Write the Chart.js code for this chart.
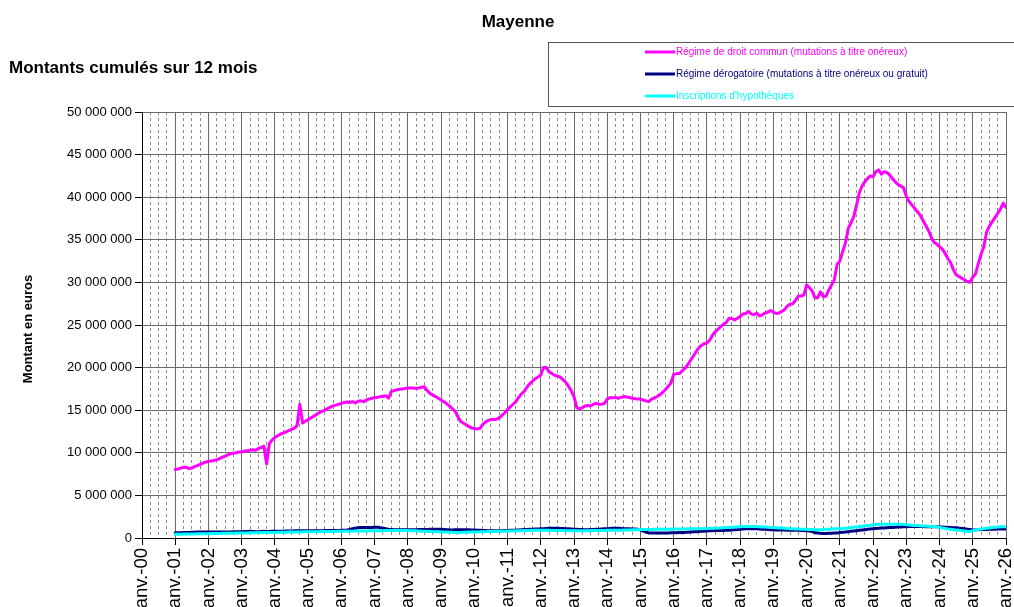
<!DOCTYPE html>
<html>
<head>
<meta charset="utf-8">
<script src="https://cdn.jsdelivr.net/npm/chart.js@4.4.1/dist/chart.umd.min.js"></script>
<style>
  html, body { margin: 0; padding: 0; background: #fff; overflow: hidden; }
</style>
</head>
<body>
<canvas id="graphique" width="1014" height="607"></canvas>
<script>
// Mayenne — montants cumulés sur 12 mois (en millions d'euros, mensuel de janv.-01 à janv.-26)
const titre = 'Mayenne';
const sousTitre = 'Montants cumulés sur 12 mois';
const titreAxeY = 'Montant en euros';

const nomsSeries = [
  'Régime de droit commun (mutations à titre onéreux)',
  'Régime dérogatoire (mutations à titre onéreux ou gratuit)',
  'Inscriptions d\'hypothèques'
];
const couleurs = ['#ff00ff', '#000080', '#00ffff'];

// premier point = janv.-01 (mois 12 depuis janv.-00)
const moisDebut = 12;

const etiquettesAnnees = [
  'janv.-00', 'janv.-01', 'janv.-02', 'janv.-03', 'janv.-04', 'janv.-05', 'janv.-06',
  'janv.-07', 'janv.-08', 'janv.-09', 'janv.-10', 'janv.-11', 'janv.-12', 'janv.-13',
  'janv.-14', 'janv.-15', 'janv.-16', 'janv.-17', 'janv.-18', 'janv.-19', 'janv.-20',
  'janv.-21', 'janv.-22', 'janv.-23', 'janv.-24', 'janv.-25', 'janv.-26'
];

const droitCommun = [
  8.05, 8.1, 8.2, 8.3, 8.3, 8.15, 8.2, 8.4, 8.5, 8.65, 8.8, 8.9,              // 2001
  9.0, 9.05, 9.1, 9.2, 9.3, 9.5, 9.6, 9.75, 9.9, 9.95, 10.0, 10.1,           // 2002
  10.1, 10.2, 10.25, 10.3, 10.35, 10.3, 10.5, 10.6, 10.8, 8.7, 11.1, 11.5,   // 2003
  11.8, 12.0, 12.2, 12.3, 12.45, 12.6, 12.75, 12.9, 13.2, 15.7, 13.5, 13.7,  // 2004
  13.9, 14.1, 14.3, 14.5, 14.7, 14.85, 15.0, 15.2, 15.35, 15.5, 15.6, 15.7,  // 2005
  15.8, 15.9, 15.95, 15.9, 16.0, 15.85, 16.05, 16.1, 16.0, 16.2, 16.3, 16.4, // 2006
  16.5, 16.5, 16.6, 16.6, 16.7, 16.4, 17.2, 17.3, 17.4, 17.45, 17.5, 17.55,  // 2007
  17.6, 17.6, 17.6, 17.55, 17.6, 17.7, 17.75, 17.3, 16.95, 16.8, 16.6, 16.4, // 2008
  16.2, 16.0, 15.75, 15.5, 15.2, 14.9, 14.3, 13.7, 13.5, 13.3, 13.1, 12.9,   // 2009
  12.85, 12.8, 12.85, 13.3, 13.6, 13.8, 13.9, 13.9, 13.95, 14.1, 14.4, 14.7, // 2010
  15.1, 15.4, 15.7, 16.0, 16.5, 16.9, 17.2, 17.7, 18.1, 18.4, 18.7, 18.9,    // 2011
  19.1, 20.0, 20.0, 19.5, 19.3, 19.1, 19.0, 18.9, 18.6, 18.3, 17.8, 17.3,    // 2012
  16.6, 15.3, 15.15, 15.3, 15.5, 15.55, 15.5, 15.7, 15.8, 15.7, 15.7, 15.8,  // 2013
  16.3, 16.5, 16.45, 16.5, 16.4, 16.5, 16.6, 16.55, 16.5, 16.4, 16.35, 16.3, // 2014
  16.3, 16.2, 16.1, 16.0, 16.3, 16.45, 16.6, 16.8, 17.1, 17.4, 17.8, 18.2,   // 2015
  19.2, 19.3, 19.3, 19.6, 19.9, 20.3, 20.8, 21.3, 21.8, 22.3, 22.6, 22.8,    // 2016
  22.9, 23.2, 23.8, 24.2, 24.5, 24.8, 25.1, 25.3, 25.8, 25.75, 25.6, 25.8,   // 2017
  26.0, 26.3, 26.35, 26.6, 26.3, 26.2, 26.4, 26.05, 26.2, 26.4, 26.5, 26.7,  // 2018
  26.5, 26.35, 26.4, 26.6, 26.8, 27.2, 27.45, 27.5, 27.9, 28.4, 28.4, 28.5,  // 2019
  29.7, 29.4, 29.0, 28.2, 28.2, 28.9, 28.3, 28.4, 29.1, 29.7, 30.3, 32.1,    // 2020
  32.5, 33.6, 34.6, 36.3, 37.0, 37.7, 39.0, 40.5, 41.3, 41.8, 42.2, 42.5,    // 2021
  42.4, 43.0, 43.2, 42.7, 43.0, 42.9, 42.6, 42.2, 41.8, 41.5, 41.3, 41.1,    // 2022
  40.1, 39.5, 39.1, 38.7, 38.3, 37.9, 37.3, 36.7, 36.1, 35.3, 34.7, 34.5,    // 2023
  34.2, 33.9, 33.4, 32.8, 32.3, 31.5, 30.9, 30.7, 30.5, 30.3, 30.1, 30.0,    // 2024
  30.6, 31.0, 32.2, 33.3, 34.2, 35.9, 36.6, 37.1, 37.6, 38.1, 38.6, 39.3,    // 2025
  38.8                                                                       // 2026
];

const derogatoire = [
  0.62, 0.62, 0.63, 0.64, 0.65, 0.66, 0.67, 0.68, 0.69, 0.7, 0.7, 0.7,       // 2001
  0.7, 0.71, 0.71, 0.7, 0.7, 0.7, 0.69, 0.7, 0.71, 0.72, 0.72, 0.73,         // 2002
  0.74, 0.75, 0.76, 0.78, 0.77, 0.75, 0.74, 0.76, 0.78, 0.77, 0.76, 0.78,    // 2003
  0.8, 0.8, 0.79, 0.8, 0.81, 0.82, 0.83, 0.84, 0.84, 0.85, 0.84, 0.84,       // 2004
  0.85, 0.86, 0.86, 0.86, 0.85, 0.86, 0.87, 0.88, 0.88, 0.88, 0.87, 0.88,    // 2005
  0.9, 0.92, 0.95, 1.0, 1.08, 1.15, 1.2, 1.22, 1.22, 1.23, 1.23, 1.24,       // 2006
  1.26, 1.25, 1.22, 1.15, 1.08, 1.02, 1.0, 0.98, 0.97, 0.97, 0.98, 0.98,     // 2007
  0.98, 0.97, 0.97, 0.98, 0.99, 1.0, 1.0, 1.0, 1.02, 1.03, 1.04, 1.03,       // 2008
  1.02, 1.0, 0.98, 0.96, 0.95, 0.96, 0.97, 0.98, 0.98, 0.97, 0.96, 0.95,     // 2009
  0.94, 0.92, 0.9, 0.88, 0.87, 0.86, 0.86, 0.86, 0.85, 0.85, 0.86, 0.87,     // 2010
  0.88, 0.9, 0.92, 0.93, 0.95, 0.97, 0.99, 1.0, 1.02, 1.04, 1.05, 1.06,      // 2011
  1.08, 1.1, 1.12, 1.13, 1.14, 1.14, 1.13, 1.12, 1.12, 1.1, 1.08, 1.06,      // 2012
  1.04, 1.02, 1.0, 0.99, 0.98, 0.98, 0.99, 1.0, 1.02, 1.04, 1.06, 1.08,      // 2013
  1.1, 1.12, 1.14, 1.15, 1.14, 1.12, 1.1, 1.09, 1.08, 1.07, 1.05, 1.02,      // 2014
  0.95, 0.8, 0.68, 0.62, 0.6, 0.59, 0.58, 0.58, 0.59, 0.6, 0.6, 0.61,        // 2015
  0.62, 0.63, 0.64, 0.65, 0.66, 0.68, 0.7, 0.72, 0.74, 0.76, 0.78, 0.8,      // 2016
  0.82, 0.84, 0.86, 0.87, 0.88, 0.88, 0.89, 0.9, 0.92, 0.95, 0.98, 1.0,      // 2017
  1.03, 1.06, 1.08, 1.1, 1.1, 1.1, 1.08, 1.06, 1.04, 1.02, 1.0, 0.98,        // 2018
  0.96, 0.95, 0.94, 0.93, 0.93, 0.92, 0.92, 0.91, 0.9, 0.9, 0.89, 0.88,      // 2019
  0.86, 0.82, 0.75, 0.65, 0.58, 0.55, 0.54, 0.54, 0.55, 0.56, 0.58, 0.6,     // 2020
  0.64, 0.67, 0.7, 0.74, 0.78, 0.82, 0.86, 0.9, 0.94, 0.98, 1.02, 1.06,      // 2021
  1.1, 1.12, 1.14, 1.16, 1.18, 1.2, 1.22, 1.24, 1.26, 1.28, 1.3, 1.32,       // 2022
  1.33, 1.34, 1.34, 1.35, 1.35, 1.34, 1.34, 1.33, 1.33, 1.32, 1.31, 1.31,    // 2023
  1.3, 1.29, 1.27, 1.25, 1.23, 1.21, 1.19, 1.16, 1.12, 1.08, 1.04, 1.0,      // 2024
  0.95, 0.96, 0.98, 1.0, 1.0, 1.0, 1.02, 1.03, 1.04, 1.05, 1.05, 1.06,       // 2025
  1.06                                                                       // 2026
];

const hypotheques = [
  0.43, 0.44, 0.45, 0.46, 0.46, 0.47, 0.48, 0.48, 0.49, 0.5, 0.5, 0.5,       // 2001
  0.51, 0.52, 0.52, 0.53, 0.54, 0.55, 0.55, 0.56, 0.56, 0.57, 0.58, 0.58,    // 2002
  0.59, 0.6, 0.6, 0.61, 0.62, 0.62, 0.63, 0.64, 0.64, 0.65, 0.65, 0.66,      // 2003
  0.66, 0.67, 0.67, 0.68, 0.68, 0.69, 0.7, 0.7, 0.71, 0.71, 0.72, 0.72,      // 2004
  0.72, 0.73, 0.73, 0.74, 0.74, 0.75, 0.75, 0.76, 0.76, 0.77, 0.77, 0.78,    // 2005
  0.78, 0.79, 0.79, 0.8, 0.8, 0.81, 0.82, 0.82, 0.83, 0.83, 0.84, 0.84,      // 2006
  0.85, 0.85, 0.86, 0.86, 0.87, 0.87, 0.87, 0.88, 0.88, 0.88, 0.88, 0.88,    // 2007
  0.87, 0.86, 0.85, 0.84, 0.82, 0.8, 0.78, 0.76, 0.75, 0.74, 0.73, 0.72,     // 2008
  0.71, 0.7, 0.69, 0.68, 0.67, 0.66, 0.66, 0.66, 0.67, 0.68, 0.69, 0.7,      // 2009
  0.7, 0.71, 0.72, 0.73, 0.74, 0.75, 0.76, 0.77, 0.78, 0.79, 0.8, 0.8,       // 2010
  0.81, 0.82, 0.83, 0.84, 0.85, 0.86, 0.87, 0.88, 0.89, 0.9, 0.9, 0.9,       // 2011
  0.9, 0.9, 0.9, 0.9, 0.89, 0.88, 0.88, 0.87, 0.87, 0.86, 0.86, 0.86,        // 2012
  0.85, 0.85, 0.85, 0.86, 0.86, 0.86, 0.87, 0.87, 0.88, 0.88, 0.89, 0.89,    // 2013
  0.9, 0.9, 0.91, 0.91, 0.92, 0.92, 0.93, 0.94, 0.95, 0.96, 0.97, 0.98,      // 2014
  0.99, 1.0, 1.0, 1.01, 1.01, 1.02, 1.02, 1.03, 1.03, 1.04, 1.04, 1.05,      // 2015
  1.05, 1.06, 1.06, 1.07, 1.07, 1.08, 1.08, 1.09, 1.09, 1.1, 1.1, 1.11,      // 2016
  1.12, 1.13, 1.14, 1.15, 1.16, 1.18, 1.2, 1.22, 1.24, 1.26, 1.28, 1.3,      // 2017
  1.32, 1.34, 1.35, 1.36, 1.36, 1.35, 1.34, 1.32, 1.3, 1.28, 1.26, 1.24,     // 2018
  1.22, 1.2, 1.18, 1.16, 1.14, 1.12, 1.1, 1.08, 1.06, 1.05, 1.04, 1.03,      // 2019
  1.02, 1.01, 1.0, 0.98, 0.97, 0.98, 1.0, 1.02, 1.04, 1.06, 1.08, 1.09,      // 2020
  1.1, 1.12, 1.15, 1.18, 1.22, 1.26, 1.3, 1.34, 1.38, 1.42, 1.46, 1.5,       // 2021
  1.55, 1.58, 1.6, 1.61, 1.62, 1.62, 1.62, 1.61, 1.61, 1.6, 1.6, 1.6,        // 2022
  1.55, 1.52, 1.5, 1.48, 1.46, 1.44, 1.42, 1.4, 1.38, 1.36, 1.34, 1.32,      // 2023
  1.25, 1.18, 1.12, 1.06, 1.02, 0.98, 0.94, 0.9, 0.86, 0.82, 0.78, 0.76,     // 2024
  0.85, 0.95, 1.0, 1.05, 1.1, 1.14, 1.18, 1.22, 1.26, 1.3, 1.32, 1.33,       // 2025
  1.33                                                                       // 2026
];

const police = '"Liberation Sans", Arial, sans-serif';

function enPoints(valeurs) {
  return valeurs.map((v, i) => ({ x: moisDebut + i, y: v * 1e6 }));
}

function formatMilliers(v) {
  return String(v).replace(/\B(?=(\d{3})+(?!\d))/g, ' ');
}

// titres, titre d'axe et cadre de légende
const textesGraphique = {
  id: 'textesGraphique',
  afterDraw(chart) {
    const ctx = chart.ctx;
    ctx.save();
    ctx.fillStyle = '#000';
    ctx.textBaseline = 'middle';
    ctx.font = 'bold 17px ' + police;
    ctx.textAlign = 'center';
    ctx.fillText(titre, 518, 22);
    ctx.textAlign = 'left';
    ctx.fillText(sousTitre, 9, 68);

    ctx.save();
    ctx.translate(28, 329);
    ctx.rotate(-Math.PI / 2);
    ctx.textAlign = 'center';
    ctx.font = 'bold 13px ' + police;
    ctx.fillText(titreAxeY, 0, 0);
    ctx.restore();

    // légende
    ctx.fillStyle = '#fff';
    ctx.fillRect(548, 42, 470, 64);
    ctx.strokeStyle = '#555';
    ctx.lineWidth = 1;
    ctx.strokeRect(548.5, 42.5, 470, 64);
    ctx.font = '10px ' + police;
    ctx.textAlign = 'left';
    const lignesY = [52, 74, 96];
    nomsSeries.forEach((nom, i) => {
      ctx.strokeStyle = couleurs[i];
      ctx.lineWidth = 3;
      ctx.beginPath();
      ctx.moveTo(645, lignesY[i]);
      ctx.lineTo(675, lignesY[i]);
      ctx.stroke();
      ctx.fillStyle = couleurs[i];
      ctx.fillText(nom, 676, lignesY[i]);
    });
    ctx.restore();
  }
};

const ctx = document.getElementById('graphique').getContext('2d');

new Chart(ctx, {
  type: 'line',
  data: {
    datasets: [
      { label: nomsSeries[0], data: enPoints(droitCommun), borderColor: couleurs[0], order: 3 },
      { label: nomsSeries[1], data: enPoints(derogatoire), borderColor: couleurs[1], order: 2 },
      { label: nomsSeries[2], data: enPoints(hypotheques), borderColor: couleurs[2], order: 1 }
    ]
  },
  options: {
    responsive: false,
    animation: false,
    layout: { padding: { top: 112, right: 8, left: 0, bottom: 0 } },
    elements: {
      point: { radius: 0 },
      line: { borderWidth: 3, tension: 0, borderJoinStyle: 'round', borderCapStyle: 'round' }
    },
    plugins: {
      legend: { display: false },
      tooltip: { enabled: false }
    },
    scales: {
      x: {
        type: 'linear',
        min: 0,
        max: 312,
        afterFit: s => { s.height = 69; s.paddingLeft = 0; s.paddingRight = 0; },
        ticks: {
          stepSize: 3,
          autoSkip: false,
          minRotation: 90,
          maxRotation: 90,
          padding: 3,
          color: '#000',
          font: { family: police, size: 18.5 },
          callback: v => (v % 12 === 0 ? etiquettesAnnees[v / 12] : '')
        },
        grid: {
          color: c => (c.tick && c.tick.value % 12 !== 0 ? '#8a8a8a' : '#6a6a6a'),
          lineWidth: 1,
          tickLength: 7,
          tickColor: c => (c.tick && c.tick.value % 12 === 0 ? '#000' : 'rgba(0,0,0,0)')
        },
        border: {
          color: '#000',
          dash: c => (c.tick && c.tick.value % 12 !== 0 ? [3, 3] : [])
        }
      },
      y: {
        min: 0,
        max: 50000000,
        afterFit: s => { s.width = 142; s.paddingTop = 0; s.paddingBottom = 0; },
        ticks: {
          stepSize: 5000000,
          padding: 3,
          color: '#000',
          font: { family: police, size: 13 },
          callback: v => formatMilliers(v)
        },
        grid: {
          color: '#6a6a6a',
          lineWidth: 1,
          tickLength: 7,
          tickColor: '#000'
        },
        border: { color: '#000' }
      }
    }
  },
  plugins: [textesGraphique]
});
</script>
</body>
</html>
